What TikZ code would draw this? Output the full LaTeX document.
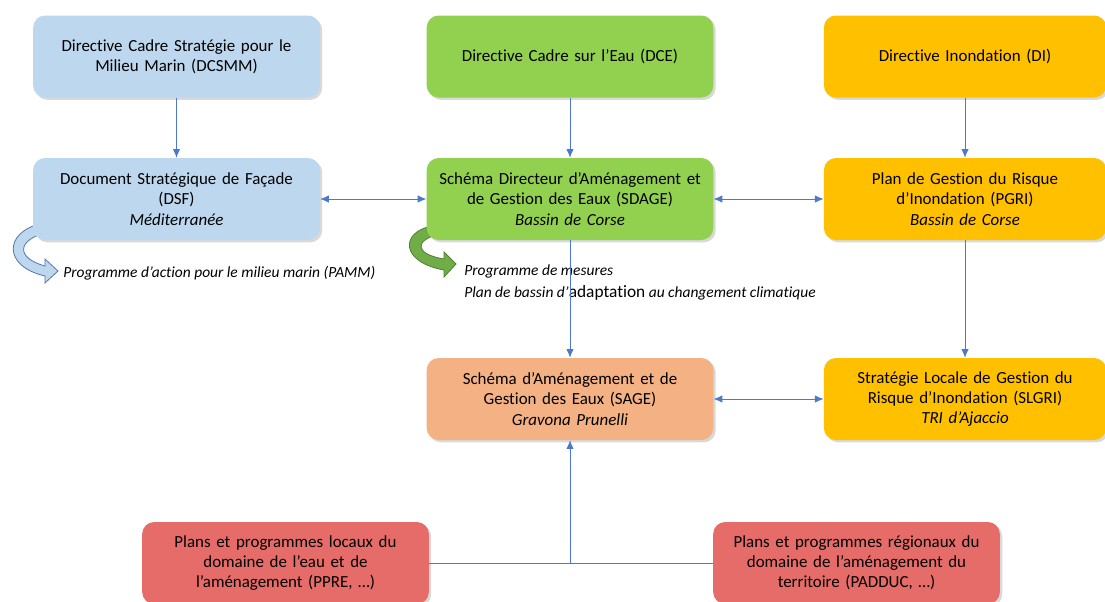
\documentclass[tikz,border=0pt]{standalone}
\usepackage{fontspec}
\setmainfont{Carlito}[Ligatures=NoCommon]
\usetikzlibrary{arrows.meta,shadows}

\definecolor{bleu}{RGB}{189,215,238}
\definecolor{vert}{RGB}{146,208,80}
\definecolor{jaune}{RGB}{255,192,0}
\definecolor{saumon}{RGB}{244,177,131}
\definecolor{rouge}{RGB}{229,108,104}
\definecolor{lien}{RGB}{75,122,205}

\tikzset{
  boite/.style={rounded corners=9pt, minimum width=215pt, minimum height=61.5pt,
    text width=205pt, align=center, font=\fontsize{12.7}{15.2}\selectfont,
    drop shadow={shadow xshift=1.8pt, shadow yshift=-1.8pt, opacity=0.3}},
  etiquette/.style={font=\fontsize{11.6}{13}\selectfont\itshape, inner sep=0pt},
  fleche/.style={-{Latex[length=6.5pt,width=5.5pt]}, color=lien, line width=0.6pt},
  fleches/.style={{Latex[length=6.5pt,width=5.5pt]}-{Latex[length=6.5pt,width=5.5pt]}, color=lien, line width=0.6pt}
}

\begin{document}
\begin{tikzpicture}[x=0.75pt, y=-0.75pt]
  \useasboundingbox (0,0) rectangle (1105,601);

  % fleches courbes
  \filldraw[fill=bleu, draw={rgb,255:red,80;green,120;blue,170}, line width=0.6pt]
    (40,224) .. controls (5,232) and (2,266) .. (45,276) -- (45,283) -- (58,271)
    -- (45,259) -- (45,266) .. controls (16,258) and (16,240) .. (48,232) -- cycle;
  \filldraw[fill={rgb,255:red,112;green,173;blue,71}, draw={rgb,255:red,80;green,126;blue,50}, line width=0.6pt]
    (432,226) .. controls (400,232) and (400,262) .. (444,270) -- (444,277) -- (456,264)
    -- (444,252) -- (444,259) .. controls (414,254) and (414,240) .. (440,234) -- cycle;

  \node[boite, fill=bleu] (dcsmm) at (176.5,56.5) {Directive Cadre Stratégie pour le\\Milieu Marin (DCSMM)};
  \node[boite, fill=vert] (dce) at (570,56.5) {Directive Cadre sur l’Eau (DCE)};
  \node[boite, fill=jaune, minimum width=208.5pt] (di) at (965,56.5) {Directive Inondation (DI)};

  \node[boite, fill=bleu] (dsf) at (176.5,199) {Document Stratégique de Façade\\(DSF)\\\textit{Méditerranée}};
  \node[boite, fill=vert] (sdage) at (570,199) {Schéma Directeur d’Aménagement et\\de Gestion des Eaux (SDAGE)\\\textit{Bassin de Corse}};
  \node[boite, fill=jaune, minimum width=208.5pt] (pgri) at (965,199) {Plan de Gestion du Risque\\d’Inondation (PGRI)\\\textit{Bassin de Corse}};

  \node[boite, fill=saumon] (sage) at (570,399) {Schéma d’Aménagement et de\\Gestion des Eaux (SAGE)\\\textit{Gravona Prunelli}};
  \node[boite, fill=jaune, minimum width=208.5pt] (slgri) at (965,399) {Stratégie Locale de Gestion du\\Risque d’Inondation (SLGRI)\\\textit{TRI d’Ajaccio}};

  \node[boite, fill=rouge] (ppre) at (285.5,563) {Plans et programmes locaux du\\domaine de l’eau et de\\l’aménagement (PPRE, …)};
  \node[boite, fill=rouge] (padduc) at (856.5,563) {Plans et programmes régionaux du\\domaine de l’aménagement du\\territoire (PADDUC, …)};

  \node[etiquette, anchor=base west] (pamm) at (63,277) {Programme d’action pour le milieu marin (PAMM)};
  \node[etiquette, anchor=base west] (mesures) at (464,275) {Programme de mesures};
  \node[etiquette, anchor=base west] (adapt) at (464,297) {Plan de bassin d’{\upshape\fontsize{13}{13}\selectfont adaptation} au changement climatique};

  \path[fleche]
    (dcsmm) edge (dsf)
    (dce) edge (sdage)
    (di) edge (pgri)
    (sdage) edge (sage)
    (pgri) edge (slgri);
  \path[fleches]
    (dsf) edge (sdage)
    (sdage) edge (pgri)
    (sage) edge (slgri);

  \coordinate (jonction) at (sage.south |- ppre.east);
  \draw[color=lien, line width=0.6pt] (ppre.east) -- (padduc.west);
  \draw[fleche] (jonction) -- (sage.south);
\end{tikzpicture}
\end{document}
